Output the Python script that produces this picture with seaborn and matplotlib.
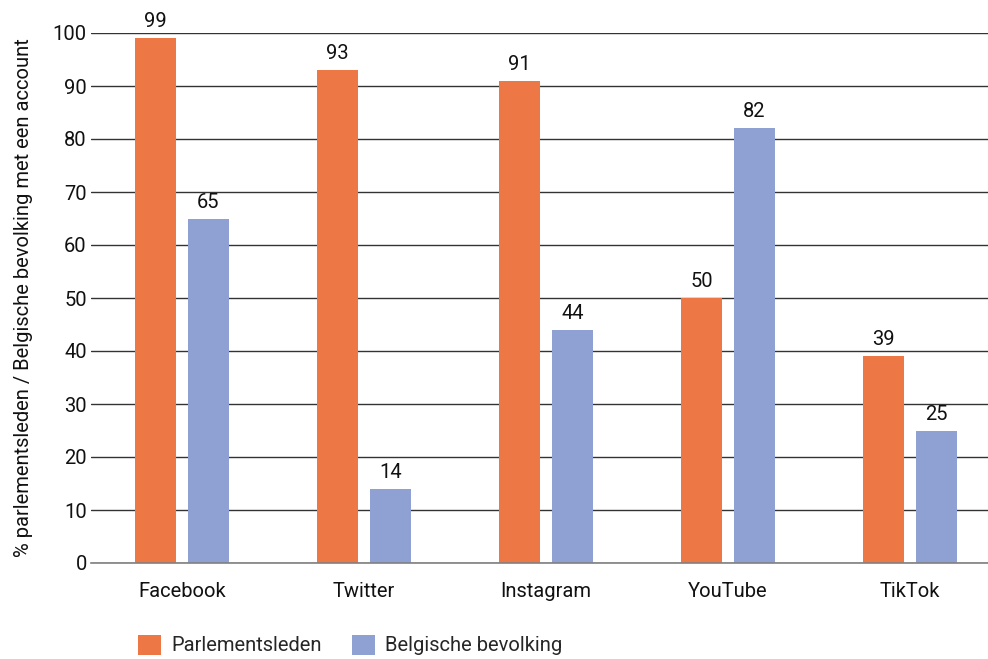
import matplotlib
matplotlib.use("Agg")
import matplotlib.pyplot as plt
import seaborn as sns
import pandas as pd
from matplotlib.patches import Patch

categories = ["Facebook", "Twitter", "Instagram", "YouTube", "TikTok"]
parlementsleden = [99, 93, 91, 50, 39]
bevolking = [65, 14, 44, 82, 25]
series_names = ["Parlementsleden", "Belgische bevolking"]
yticks = [0, 10, 20, 30, 40, 50, 60, 70, 80, 90, 100]
ylabel = "% parlementsleden / Belgische bevolking met een account"

df = pd.DataFrame({
    "platform": categories * 2,
    "groep": [series_names[0]] * len(categories) + [series_names[1]] * len(categories),
    "waarde": parlementsleden + bevolking,
})

sns.set_theme(style="white")
plt.rcParams["font.family"] = ["Roboto", "DejaVu Sans"]

colors = ["#EE7746", "#8FA0D2"]

fig = plt.figure(figsize=(9.88, 6.59), dpi=100)
W, H = 988, 659
ax = fig.add_axes([91 / W, 1 - 563 / H, 910 / W, 530 / H])

sns.barplot(data=df, x="platform", y="waarde", hue="groep", palette=colors,
            width=0.58, gap=0.22, ax=ax, legend=False, saturation=1,
            edgecolor="none")

fs = 14.5
ax.set_ylim(0, 100)
ax.set_xlim(-0.5, 4.5)
ax.set_yticks(yticks)
ax.yaxis.grid(True, color="#333333", linewidth=1)
ax.set_axisbelow(True)
for s in ["top", "right", "left"]:
    ax.spines[s].set_visible(False)
ax.spines["bottom"].set_color("#808080")
ax.spines["bottom"].set_linewidth(1.2)
ax.tick_params(axis="both", length=0, labelsize=fs, colors="#111111")
ax.tick_params(axis="x", pad=14)
ax.tick_params(axis="y", pad=3)
ax.set_xlabel("")
ax.set_ylabel(ylabel, fontsize=fs, color="#111111", labelpad=14)

for cont in ax.containers:
    ax.bar_label(cont, labels=[f"{v:.0f}" for v in cont.datavalues],
                 padding=5, fontsize=fs, color="#111111", clip_on=False)

handles = [Patch(facecolor=c, edgecolor="none") for c in colors]
fig.legend(handles, series_names, loc="lower left", bbox_to_anchor=(120 / W, -0.022),
           ncol=2, frameon=False, fontsize=fs, handlelength=1.15, handleheight=1.15,
           columnspacing=1.5, handletextpad=0.5)

fig.savefig("out.png", dpi=100)
